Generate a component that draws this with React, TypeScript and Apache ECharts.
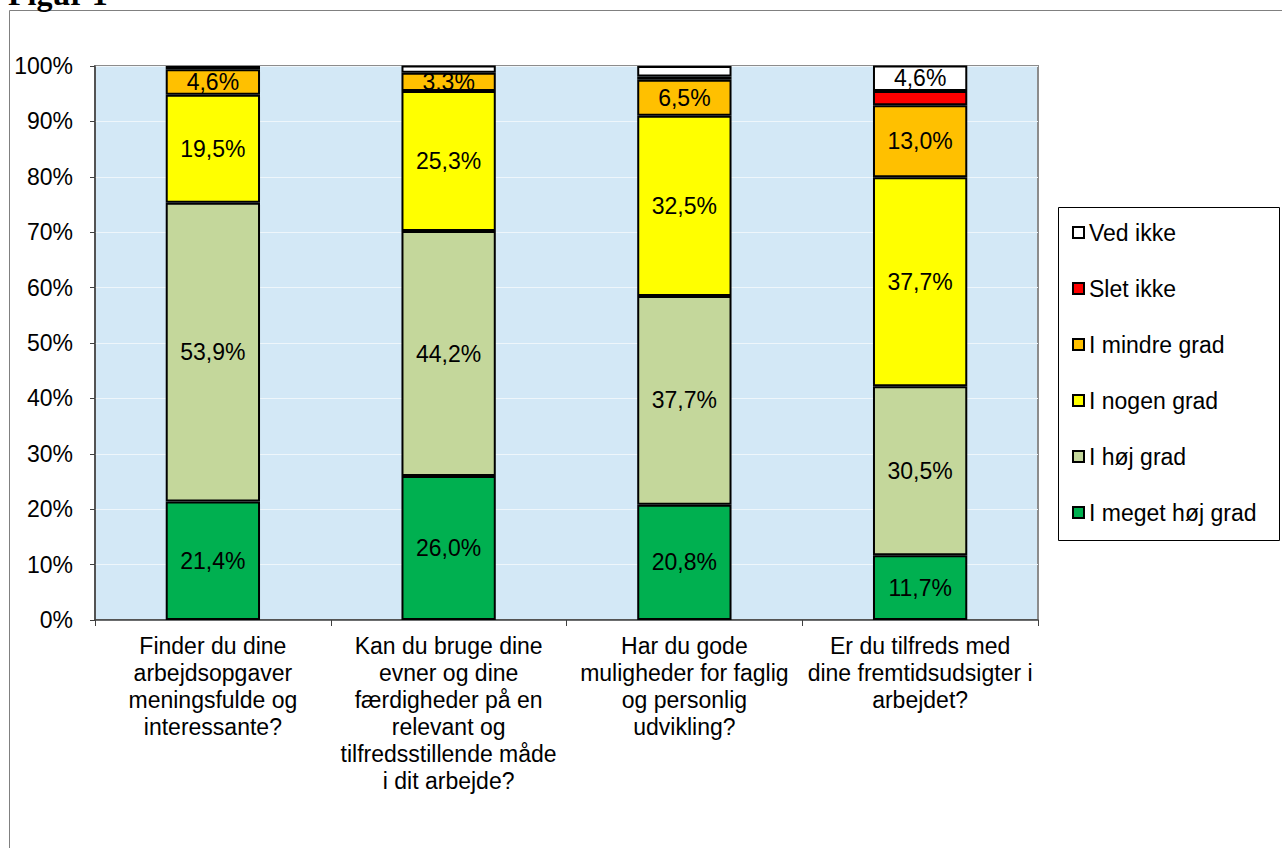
import React, { useEffect, useRef } from "react";
import * as echarts from "echarts";

// Survey questions (x-axis categories), pre-wrapped the way they are shown
const categories = [
  "Finder du dine\narbejdsopgaver\nmeningsfulde og\ninteressante?",
  "Kan du bruge dine\nevner og dine\nfærdigheder på en\nrelevant og\ntilfredsstillende måde\ni dit arbejde?",
  "Har du gode\nmuligheder for faglig\nog personlig\nudvikling?",
  "Er du tilfreds med\ndine fremtidsudsigter i\narbejdet?",
];

// Answer shares in percent, one array per answer option
const megetHoejGrad = [21.4, 26.0, 20.8, 11.7];
const hoejGrad = [53.9, 44.2, 37.7, 30.5];
const nogenGrad = [19.5, 25.3, 32.5, 37.7];
const mindreGrad = [4.6, 3.3, 6.5, 13.0];
const sletIkke = [0, 0, 0.6, 2.6];
const vedIkke = [0.6, 1.3, 1.9, 4.6];

const yTicks = { min: 0, max: 100, interval: 10 };

const FONT = "Arial, 'Liberation Sans', sans-serif";

const seriesDefs = [
  { name: "I meget høj grad", data: megetHoejGrad, color: "#00B050" },
  { name: "I høj grad", data: hoejGrad, color: "#C4D79B" },
  { name: "I nogen grad", data: nogenGrad, color: "#FFFF00" },
  { name: "I mindre grad", data: mindreGrad, color: "#FFC000" },
  { name: "Slet ikke", data: sletIkke, color: "#FF0000" },
  { name: "Ved ikke", data: vedIkke, color: "#FFFFFF" },
];

export default function App() {
  const ref = useRef<HTMLDivElement>(null);

  useEffect(() => {
    document.body.style.margin = "0";
    if (!ref.current) return;
    const chart = echarts.init(ref.current, null, { renderer: "svg" });

    chart.setOption({
      animation: false,
      backgroundColor: "#FFFFFF",
      textStyle: { fontFamily: FONT },
      grid: {
        left: 95,
        top: 66,
        right: 244,
        bottom: 228,
        show: true,
        backgroundColor: "#D3E8F6",
        borderColor: "#8C8C8C",
        borderWidth: 2,
      },
      legend: {
        orient: "vertical",
        left: 1072,
        top: 221,
        padding: 0,
        itemGap: 33,
        itemWidth: 11,
        itemHeight: 11,
        icon: "rect",
        selectedMode: false,
        data: [...seriesDefs].reverse().map((s) => s.name),
        textStyle: {
          fontFamily: FONT,
          fontSize: 23,
          color: "#000",
        },
      },
      xAxis: {
        type: "category",
        data: categories,
        axisLine: { lineStyle: { color: "#404040", width: 1.5 } },
        axisTick: { show: true, length: 6, lineStyle: { color: "#404040" } },
        axisLabel: {
          interval: 0,
          margin: 12,
          fontFamily: FONT,
          fontSize: 23,
          lineHeight: 27,
          color: "#000",
          align: "center",
        },
      },
      yAxis: {
        type: "value",
        min: yTicks.min,
        max: yTicks.max,
        interval: yTicks.interval,
        axisLine: { show: true, lineStyle: { color: "#404040", width: 1.5 } },
        axisTick: { show: true, length: 5, lineStyle: { color: "#404040" } },
        splitLine: { show: true, lineStyle: { color: "#EEF6FB", width: 1 } },
        axisLabel: {
          margin: 22,
          fontFamily: FONT,
          fontSize: 23,
          color: "#000",
          formatter: "{value}%",
        },
      },
      series: seriesDefs.map((s) => ({
        name: s.name,
        type: "bar",
        stack: "total",
        barWidth: "40%",
        // empty shares are left out so they draw no zero-height outline
        data: s.data.map((v) => (v === 0 ? "-" : v)),
        itemStyle: { color: s.color, borderColor: "#000", borderWidth: 2 },
        label: {
          show: true,
          position: "inside",
          fontFamily: FONT,
          fontSize: 23,
          color: "#000",
          formatter: (p: any) =>
            p.value >= 3 ? p.value.toFixed(1).replace(".", ",") + "%" : "",
        },
      })),
      graphic: [
        {
          type: "rect",
          silent: true,
          shape: { x: 9.5, y: 10.5, width: 1400, height: 1000 },
          style: { fill: "none", stroke: "#808080", lineWidth: 1 },
          z: 0,
        },
        {
          type: "rect",
          silent: true,
          shape: { x: 1058.5, y: 207.5, width: 221, height: 333 },
          style: { fill: "#FFFFFF", stroke: "#000", lineWidth: 1 },
          z: 0,
        },
        {
          type: "text",
          silent: true,
          x: 8,
          y: 10,
          style: {
            text: "Figur 1",
            font: "bold 32px 'Liberation Serif', 'Times New Roman', serif",
            fill: "#000",
            verticalAlign: "bottom",
          },
        },
      ],
    });

    return () => chart.dispose();
  }, []);

  return <div ref={ref} style={{ width: 1282, height: 848 }} />;
}
